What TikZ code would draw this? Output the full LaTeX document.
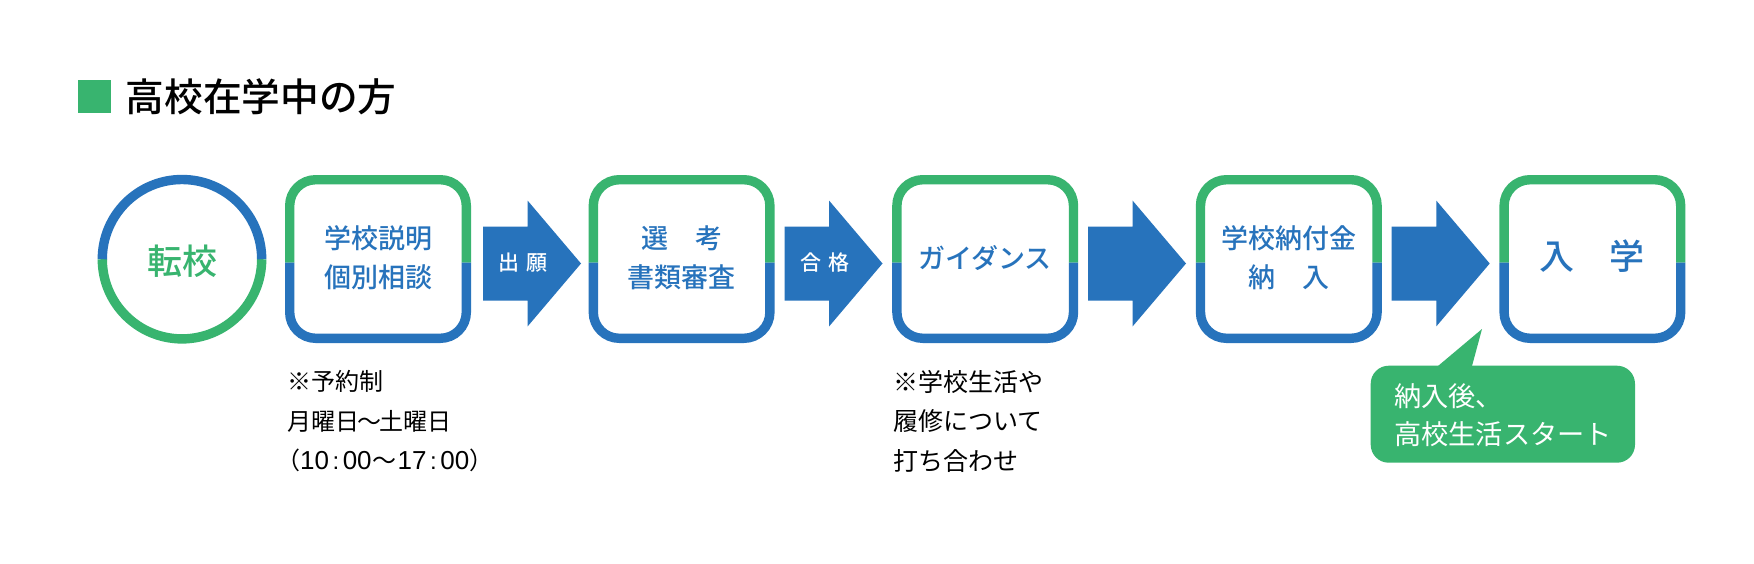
\documentclass[tikz,border=0pt]{standalone}
\usepackage{fontspec}
\setmainfont{Noto Sans CJK JP}
\newfontfamily\med{Noto Sans CJK JP Medium}
\newfontfamily\lat{Liberation Sans}
\definecolor{grn}{HTML}{38B46F}
\definecolor{blu}{HTML}{2773BC}
\newcommand{\fs}[1]{\fontsize{#1pt}{#1pt}\selectfont}
\newcommand{\dig}[1]{{\lat\fontsize{26pt}{26pt}\selectfont #1}}
\newcommand{\colonk}{\hspace{3.5pt}{\lat :}\hspace{3.5pt}}
\newcommand{\flowbox}[2]{% left x, name
  \begin{scope}[shift={(#1,0)},line width=9.4pt]
    \draw[grn,rounded corners=26pt] (4.7,262.7) -- (4.7,179.7) -- (181.3,179.7) -- (181.3,262.7);
    \draw[blu,rounded corners=26pt] (4.7,262.7) -- (4.7,338.3) -- (181.3,338.3) -- (181.3,262.7);
    \coordinate (#2) at (93,258);
  \end{scope}}
\newcommand{\flowarrow}[1]{%
  \fill[blu,shift={(#1,0)}] (0,226.7) -- (44.7,226.7) -- (44.7,200.7) -- (98,263.5) -- (44.7,326.3) -- (44.7,300.7) -- (0,300.7) -- cycle;}
\tikzset{x=1pt,y=-1pt,
  lab/.style={text=blu,font=\fs{27}\med,align=center,inner sep=0pt},
  note/.style={text=black,font=\fs{24},align=left,anchor=north west,inner sep=0pt},
  alab/.style={text=white,font=\fs{21}\med,inner sep=0pt}}
\begin{document}
\begin{tikzpicture}
\useasboundingbox (0,0) rectangle (1754,563);
\fill[white] (0,0) rectangle (1754,563);
\fill[grn] (78,80) rectangle (111,113);
\node[anchor=west,inner sep=0pt,font=\fs{38.7}\med] (title) at (125.5,97) {高校在学中の方};
% circle
\draw[line width=9.4pt,grn] (102.3,259.2) arc[start angle=180,end angle=0,radius=79.7];
\draw[line width=9.4pt,blu] (102.3,259.2) arc[start angle=180,end angle=360,radius=79.7];
\node[text=grn,font=\fs{35}\med,inner sep=0pt] (tenko) at (182,261) {転校};
% boxes
\flowbox{285}{b1}\flowbox{588.6}{b2}\flowbox{892.2}{b3}\flowbox{1195.8}{b4}\flowbox{1499.4}{b5}
\flowarrow{483}\flowarrow{784.5}\flowarrow{1088}\flowarrow{1391.7}
\node[lab] (t1) at (378,257.5) {学校説明\\[11.7pt]個別相談};
\node[lab] (t2) at (681.6,257.5) {選　考\\[11.7pt]書類審査};
\node[lab] (t3) at (985.2,258) {ガイダンス};
\node[lab] (t4) at (1288.8,257.5) {学校納付金\\[11.7pt]納　入};
\node[lab,font=\fs{35}\med] (t5) at (1591.5,256) {入　学};
\node[alab] (a1) at (523,262.7) {出\hspace{7pt}願};
\node[alab] (a2) at (824.5,262.7) {合\hspace{7pt}格};
\node[note] (n1) at (287,370.5) {※予約制\\[15.5pt]月曜日\hspace{-2pt}～\hspace{-2pt}土曜日\\[15.5pt]\hspace*{-11pt}（\dig{10}\colonk\dig{00}\hspace{1pt}～\hspace{1pt}\dig{17}\colonk\dig{00}）};
\node[note,font=\fs{25}] (n2) at (893,370) {※学校生活や\\[14.5pt]履修について\\[14.5pt]打ち合わせ};
% bubble
\fill[grn,rounded corners=18pt] (1370.7,365.7) -- (1635,365.7) -- (1635,462.7) -- (1370.7,462.7) -- cycle;
\fill[grn] (1438,366) -- (1482,329) -- (1472,366) -- cycle;
\node[note,text=white,font=\fs{27.2}] (n3) at (1394,383) {納入後、\\[11.3pt]高校生活スタート};
\end{tikzpicture}
\end{document}
